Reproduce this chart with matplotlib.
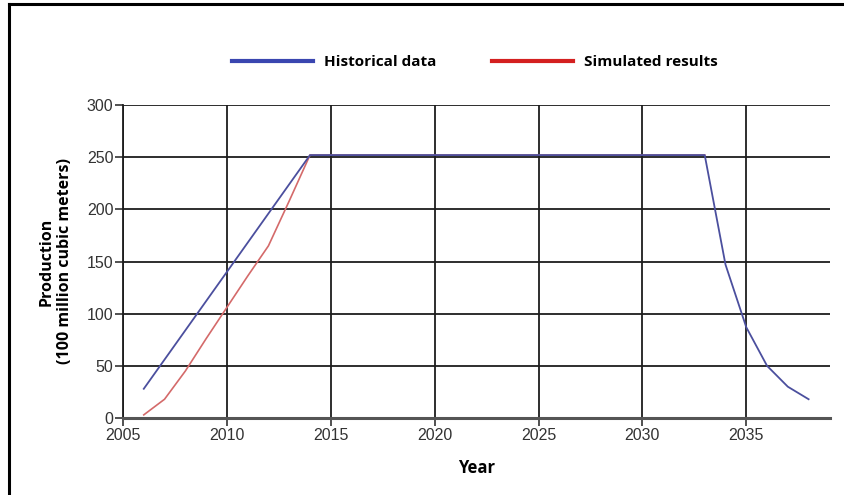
import numpy as np
import matplotlib.pyplot as plt
from matplotlib.lines import Line2D

# data
hist_years = [2006, 2014, 2033, 2034, 2035, 2036, 2037, 2038]
hist_prod = [28, 252, 252, 147, 87, 50, 30, 18]

sim_years = [2006, 2007, 2008, 2009, 2010, 2011, 2012, 2013, 2014, 2033]
sim_prod = [3, 18, 45, 76, 106, 136, 165, 208, 252, 252]

x_ticks = [2005, 2010, 2015, 2020, 2025, 2030, 2035]
y_ticks = [0, 50, 100, 150, 200, 250, 300]

W, H = 845, 495
fig = plt.figure(figsize=(W / 100, H / 100), dpi=100)
ax = fig.add_axes([123 / W, (H - 418) / H, (830 - 123) / W, (418 - 105) / H])

ax.plot(sim_years, sim_prod, color='#d46a6a', lw=1.2, zorder=3)
ax.plot(hist_years, hist_prod, color='#4b4f9e', lw=1.3, zorder=4)

ax.set_xlim(2005, 2039.03)
ax.set_ylim(0, 300)
ax.set_xticks(x_ticks)
ax.set_yticks(y_ticks)
ax.grid(True, color='#1c1c1c', lw=1.3)
ax.set_axisbelow(True)
for s in ['top', 'right']:
    ax.spines[s].set_visible(False)
ax.spines['left'].set_color('#1c1c1c')
ax.spines['left'].set_linewidth(1.3)
ax.spines['bottom'].set_color('#555555')
ax.spines['bottom'].set_linewidth(2.2)
ax.tick_params(axis='both', length=6, width=1.2, color='#333333',
               labelsize=11.5, labelcolor='#333333', pad=1)
for lab in ax.get_xticklabels() + ax.get_yticklabels():
    lab.set_family('Liberation Sans')

ax.set_xlabel('Year', fontsize=12, fontweight='bold', family='Open Sans', labelpad=12)
ax.set_ylabel('Production\n(100 million cubic meters)', fontsize=11.5,
              fontweight='bold', family='Open Sans', labelpad=10)

handles = [Line2D([], [], color='#3a46b0', lw=3),
           Line2D([], [], color='#d42020', lw=3)]
fig.legend(handles, ['Historical data', 'Simulated results'], ncol=2,
           loc='center', bbox_to_anchor=(475 / W, 1 - 62 / H), frameon=False,
           prop={'family': 'Open Sans', 'weight': 'bold', 'size': 11},
           handlelength=5.3, columnspacing=3.6, handletextpad=0.75)

# frame lines of the original screenshot (left and top only)
fig.add_artist(Line2D([9.5 / W, 9.5 / W], [0, 1 - 4 / H], color='black', lw=2.2,
                      transform=fig.transFigure))
fig.add_artist(Line2D([9.5 / W, 1], [1 - 4 / H, 1 - 4 / H], color='black', lw=2.2,
                      transform=fig.transFigure))

fig.savefig('out.png', dpi=100)
